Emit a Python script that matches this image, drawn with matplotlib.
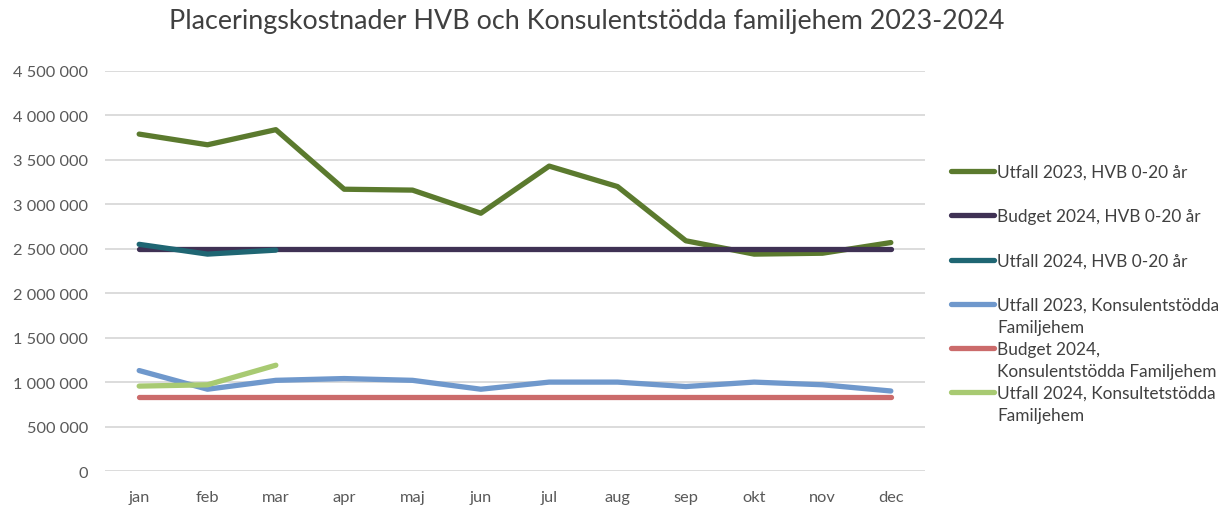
import numpy as np
import matplotlib
matplotlib.use('Agg')
import matplotlib.pyplot as plt
from matplotlib.lines import Line2D
from matplotlib.ticker import FuncFormatter, MultipleLocator

plt.rcParams['font.family'] = ['Lato', 'DejaVu Sans']

months = ['jan', 'feb', 'mar', 'apr', 'maj', 'jun', 'jul', 'aug', 'sep', 'okt', 'nov', 'dec']

utfall_2023_hvb = [3790000, 3670000, 3840000, 3170000, 3160000, 2900000,
                   3430000, 3200000, 2590000, 2440000, 2450000, 2570000]
budget_2024_hvb = [2500000] * 12
utfall_2024_hvb = [2550000, 2440000, 2485000]
utfall_2023_kons = [1130000, 920000, 1020000, 1040000, 1020000, 920000,
                    1000000, 1000000, 950000, 1000000, 970000, 900000]
budget_2024_kons = [830000] * 12
utfall_2024_kons = [955000, 970000, 1190000]

labels = ['Utfall 2023, HVB 0-20 år',
          'Budget 2024, HVB 0-20 år',
          'Utfall 2024, HVB 0-20 år',
          'Utfall 2023, Konsulentstödda\nFamiljehem',
          'Budget 2024,\nKonsulentstödda Familjehem',
          'Utfall 2024, Konsultetstödda\nFamiljehem']
colors = ['#5B7A2E', '#3F3154', '#1F6673', '#6F98CC', '#CB6B6B', '#A8CA72']
series = [utfall_2023_hvb, budget_2024_hvb, utfall_2024_hvb,
          utfall_2023_kons, budget_2024_kons, utfall_2024_kons]

fig = plt.figure(figsize=(12.23, 5.06), dpi=100)
ax = fig.add_axes([105 / 1223, 1 - 472 / 506, 820 / 1223, 400 / 506])

x = np.arange(len(months))
for vals, col, lab in zip(series, colors, labels):
    ax.plot(x[:len(vals)], vals, color=col, lw=3.8, solid_capstyle='round',
            solid_joinstyle='round', label=lab, zorder=3)

ax.set_xlim(-0.5, 11.5)
ax.set_ylim(0, 4500000)
ax.yaxis.set_major_locator(MultipleLocator(500000))
ax.yaxis.set_major_formatter(FuncFormatter(lambda v, p: f'{int(v):,}'.replace(',', ' ')))
ax.set_xticks(x)
ax.set_xticklabels(months)
ax.grid(axis='y', color='#D9D9D9', lw=1.3, zorder=0)
for s in ax.spines.values():
    s.set_visible(False)
ax.tick_params(length=0, labelsize=11.8, colors='#595959')
ax.tick_params(axis='x', pad=14)
ax.tick_params(axis='y', pad=12)

fig.text(587 / 1223, 1 - 22 / 506, 'Placeringskostnader HVB och Konsulentstödda familjehem 2023-2024',
         ha='center', va='center', fontsize=19.4, color='#404040')

# legend, drawn by hand so the line sits by the first text row
leg_y = [172, 216, 261, 305, 349, 393]
for yy, col, lab in zip(leg_y, colors, labels):
    fy = 1 - yy / 506
    fig.add_artist(Line2D([951 / 1223, 994 / 1223], [fy, fy], color=col, lw=3.8,
                          solid_capstyle='round', transform=fig.transFigure))
    fig.text(997 / 1223, fy + 7 / 506, lab, ha='left', va='top', fontsize=12.4,
             color='#404040', linespacing=1.5)

fig.savefig('out.png', dpi=100)
